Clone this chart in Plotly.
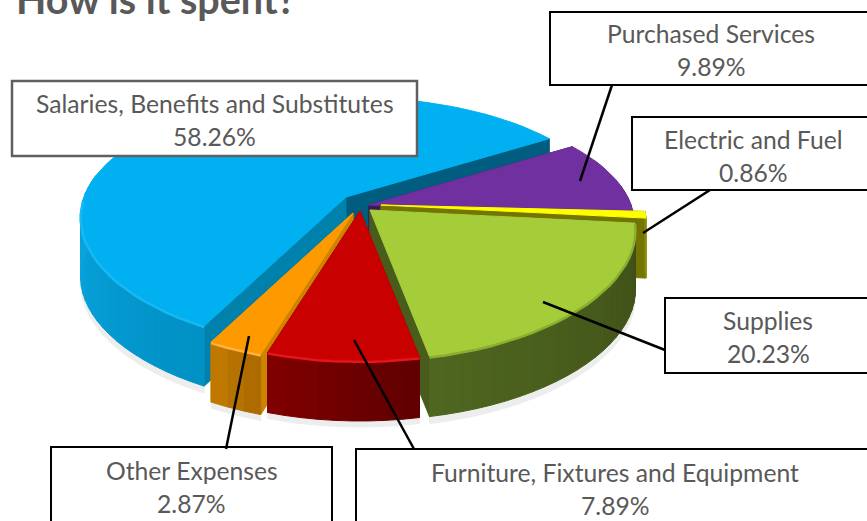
import math
import plotly.graph_objects as go

# ---- data
categories = ["Salaries, Benefits and Substitutes", "Purchased Services", "Electric and Fuel",
              "Supplies", "Furniture, Fixtures and Equipment", "Other Expenses"]
values = [58.26, 9.89, 0.86, 20.23, 7.89, 2.87]
value_text = ["58.26%", "9.89%", "0.86%", "20.23%", "7.89%", "2.87%"]

# ---- styling
top_col = ["#00B0F0", "#7030A0", "#FFFF00", "#A5CD39", "#C80000", "#FF9900"]
rim_dark = ["#0090C4", "#3A1A58", "#7F7F00", "#3F4E18", "#5E0000", "#A86800"]
rim_light = ["#0BA8E4", "#4A2470", "#8F8F00", "#4E661F", "#800000", "#C47C00"]
face_a = ["#0081AB", "#3B1A55", "#747400", "#4A5C1C", "#7A0000", "#CC8400"]   # first edge face
face_b = ["#005D7F", "#3B1A55", "#747400", "#4A5C1C", "#7A0000", "#CC8400"]   # last edge face
edge_hi = ["#18B8F2", None, None, "#8CAE30", "#E8141C", "#FFB23C"]
# exploded centre of each slice, in pixels
centre_x = [346, 369, 381, 370, 360, 353]
centre_y = [197, 205, 205, 210, 211, 213]
first_angle = 207.7    # degrees clockwise from the back of the pie, where the first slice begins
RX, RY, KX, KY, DEPTH = 262, 120, 0.16, 0.2, 60


def project(cx, cy, deg):
    t = math.radians(deg)
    u, v = math.sin(t), -math.cos(t)
    return cx + RX * u / (1 - KX * v), cy + RY * v / (1 - KY * v), v


fig = go.Figure()


def poly(pts, color, line=None):
    fig.add_trace(go.Scatter(x=[a for a, _ in pts] + [pts[0][0]], y=[b for _, b in pts] + [pts[0][1]],
                             mode="lines", fill="toself", fillcolor=color,
                             line=dict(color=line or color, width=1),
                             hoverinfo="skip", showlegend=False))


def lerp(c1, c2, t):
    a = [int(c1[i:i + 2], 16) for i in (1, 3, 5)]
    b = [int(c2[i:i + 2], 16) for i in (1, 3, 5)]
    return "#%02X%02X%02X" % tuple(round(x + (y - x) * t) for x, y in zip(a, b))


# sweep of each slice from its value
sweeps = []
ang = first_angle
for val in values:
    sweeps.append((ang, ang + 360 * val / sum(values)))
    ang += 360 * val / sum(values)

# soft shadow under the pie
for idx, off in ((0, 7), (3, 7), (4, 6), (5, 6)):
    a0, a1 = sweeps[idx]
    n = 40
    arc = [project(centre_x[idx], centre_y[idx], a0 + (a1 - a0) * i / n) for i in range(n + 1)]
    lower = [(x, y + DEPTH + off) for x, y, v in arc if v > 0]
    upper = [(x, y + DEPTH - 10) for x, y, v in arc if v > 0][::-1]
    if lower:
        poly(lower + upper, "#EDEDED")

# painter's order: back slices first, nearest slices last
for idx in (0, 1, 2, 3, 5, 4):
    a0, a1 = sweeps[idx]
    cx, cy = centre_x[idx], centre_y[idx]
    apex = (cx, cy)
    p0 = project(cx, cy, a0)[:2]
    p1 = project(cx, cy, a1)[:2]
    poly([apex, p1, (p1[0], p1[1] + DEPTH), (apex[0], apex[1] + DEPTH)], face_b[idx])
    poly([apex, p0, (p0[0], p0[1] + DEPTH), (apex[0], apex[1] + DEPTH)], face_a[idx])

    n = max(3, int((a1 - a0) / 3))
    arc = [project(cx, cy, a0 + (a1 - a0) * i / n) for i in range(n + 1)]
    vis_min = min(a0 + (a1 - a0) * i / n for i in range(n + 1) if arc[i][2] > -0.15)
    vis_max = max(a0 + (a1 - a0) * i / n for i in range(n + 1) if arc[i][2] > -0.15)
    for i in range(n):
        if arc[i][2] < -0.15 and arc[i + 1][2] < -0.15:
            continue
        mid = a0 + (a1 - a0) * (i + 0.5) / n
        tt = (mid - vis_min) / max(vis_max - vis_min, 1)
        poly([arc[i][:2], arc[i + 1][:2], (arc[i + 1][0], arc[i + 1][1] + DEPTH),
              (arc[i][0], arc[i][1] + DEPTH)], lerp(rim_dark[idx], rim_light[idx], tt))

    poly([apex] + [q[:2] for q in arc], top_col[idx])
    if edge_hi[idx]:
        front = [q for q in arc if q[2] > 0.0]
        fig.add_trace(go.Scatter(x=[q[0] for q in front], y=[q[1] + 1 for q in front], mode="lines",
                                 line=dict(color=edge_hi[idx], width=2.5), hoverinfo="skip", showlegend=False))

# callout boxes and leader lines
box = [(12, 417, 81, 156), (550, 872, 12, 85), (632, 874, 117, 190),
       (665, 871, 298, 373), (356, 874, 449, 530), (51, 332, 447, 530)]
leader = [None, ((612, 85), (580, 181)), ((710, 190), (643, 233)),
          ((665, 350), (543, 302)), ((414, 449), (354, 340)), ((226, 449), (249, 336))]
text_y = [103, 33, 139, 320, 472, 470]

shapes = []
annos = []
for i, name in enumerate(categories):
    x0, x1, y0, y1 = box[i]
    shapes.append(dict(type="rect", xref="x", yref="y", x0=x0, x1=x1, y0=y0, y1=y1, layer="above",
                       fillcolor="white", line=dict(color="#5F5F5F" if i == 0 else "black", width=2 if i else 2.5)))
    if leader[i]:
        (a, b), (c, d) = leader[i]
        shapes.append(dict(type="line", xref="x", yref="y", x0=a, y0=b, x1=c, y1=d, layer="above",
                           line=dict(color="black", width=2.5)))
    annos.append(dict(x=(x0 + x1) / 2, y=text_y[i], xref="x", yref="y", text=name, showarrow=False,
                      xanchor="center", yanchor="middle", font=dict(family="Lato", size=24.7, color="#595959")))
    annos.append(dict(x=(x0 + x1) / 2, y=text_y[i] + 33, xref="x", yref="y", text=value_text[i], showarrow=False,
                      xanchor="center", yanchor="middle", font=dict(family="Lato", size=24.7, color="#595959")))

annos.append(dict(x=14, y=0, yshift=2, xref="x", yref="y", text="<b>How is it spent?</b>", showarrow=False,
                  xanchor="left", yanchor="middle", font=dict(family="Lato", size=39.5, color="#595959")))

fig.update_layout(
    width=867, height=521, margin=dict(l=0, r=0, t=0, b=0), autosize=False,
    paper_bgcolor="white", plot_bgcolor="white", showlegend=False,
    xaxis=dict(range=[0, 867], visible=False, fixedrange=True),
    yaxis=dict(range=[521, 0], visible=False, fixedrange=True),
    shapes=shapes, annotations=annos,
)
fig.write_html("out.html", config=dict(displayModeBar=False),
               post_script="document.body.style.margin='0';document.body.style.overflow='hidden';")
